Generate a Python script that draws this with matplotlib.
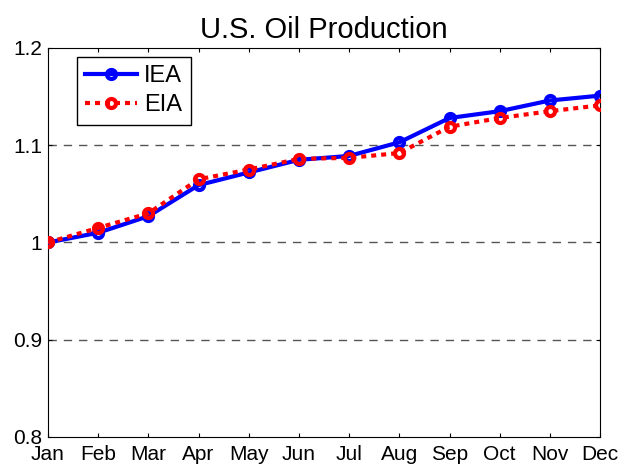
import matplotlib
matplotlib.use("Agg")
from matplotlib import pyplot as plt

plt.rcParams['font.family'] = ['Liberation Sans', 'DejaVu Sans']

# 月份与两条产量曲线(归一化, Jan = 1)
months = ["Jan", "Feb", "Mar", "Apr", "May", "Jun", "Jul", "Aug", "Sep", "Oct", "Nov", "Dec"]
iea = [1.000, 1.010, 1.027, 1.059, 1.072, 1.085, 1.089, 1.103, 1.128, 1.135, 1.146, 1.151]
eia = [1.000, 1.015, 1.030, 1.065, 1.075, 1.086, 1.087, 1.092, 1.119, 1.128, 1.135, 1.141]
yticks = [0.8, 0.9, 1.0, 1.1, 1.2]
ylabels = ["0.8", "0.9", "1", "1.1", "1.2"]

fig = plt.figure(figsize=(6.39, 4.75), dpi=100)
ax = fig.add_axes([0.0751, 0.08, 0.864, 0.819])

x = range(len(months))
ax.plot(x, iea, color="blue", lw=3, marker="o", ms=6.5, mew=3, mfc="none", label="IEA", zorder=3)
ax.plot(x, eia, color="red", lw=3, marker="o", ms=6.5, mew=3, mfc="none", dashes=(1.2, 1.2),
        dash_capstyle="butt", label="EIA", zorder=4)

ax.set_xlim(0, len(months) - 1)
ax.set_ylim(0.8, 1.2)
ax.set_xticks(list(x))
ax.set_xticklabels(months)
ax.set_yticks(yticks)
ax.set_yticklabels(ylabels)
ax.tick_params(direction="in", length=3, labelsize=15, top=True, right=True)
ax.tick_params(axis="x", pad=6)
ax.tick_params(axis="y", pad=4)

# 只画水平虚线网格
for yv in [0.9, 1.0, 1.1]:
    ax.axhline(yv, color="#555555", lw=1, dashes=(6, 5), zorder=1)

ax.set_title("U.S. Oil Production", fontsize=21, pad=7)

leg = ax.legend(loc="upper left", bbox_to_anchor=(0.0525, 0.977), borderaxespad=0,
                fontsize=17, handlelength=2.2, handletextpad=0.3, fancybox=False,
                framealpha=1, edgecolor="black", labelspacing=0.3, borderpad=0.35)
leg.get_frame().set_linewidth(1)

fig.savefig("out.png", dpi=100)
